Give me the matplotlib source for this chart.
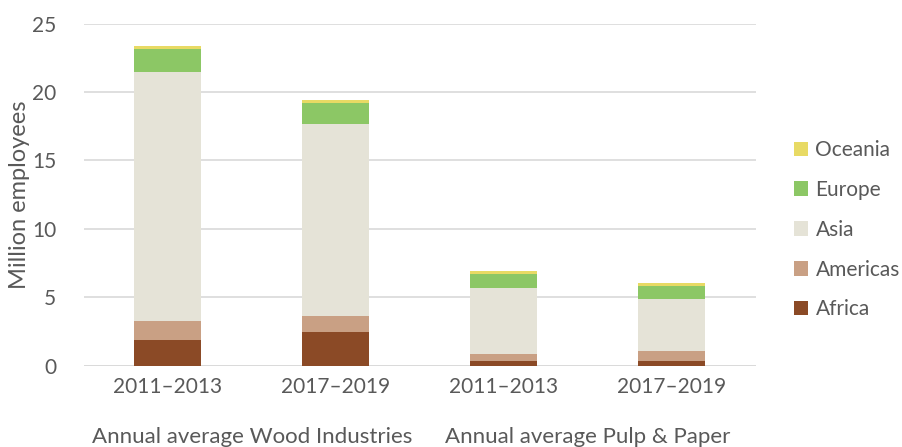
import numpy as np
import matplotlib.pyplot as plt
from matplotlib.patches import Patch

plt.rcParams['font.family'] = ['Lato', 'DejaVu Sans']

periods = ["2011–2013", "2017–2019", "2011–2013", "2017–2019"]
groups = ["Annual average Wood Industries", "Annual average Pulp & Paper"]
regions = ["Africa", "Americas", "Asia", "Europe", "Oceania"]

africa = [1.88, 2.44, 0.34, 0.37]
americas = [1.39, 1.19, 0.54, 0.70]
asia = [18.20, 14.07, 4.82, 3.78]
europe = [1.68, 1.50, 1.03, 1.00]
oceania = [0.22, 0.22, 0.17, 0.20]

colors = ["#8b4a26", "#c9a084", "#e5e3d7", "#8cc765", "#e8da64"]
text_col = "#595959"

fig = plt.figure(figsize=(9.02, 4.47), dpi=100)
ax = fig.add_axes([0.093, 0.182, 0.745, 0.765])

x = np.arange(len(periods))
bottom = np.zeros(len(periods))
for vals, col in zip([africa, americas, asia, europe, oceania], colors):
    ax.bar(x, vals, width=0.40, bottom=bottom, color=col, zorder=3)
    bottom += np.array(vals)

ax.set_xlim(-0.5, len(periods) - 0.5)
ax.set_ylim(0, 25)
ax.set_yticks(range(0, 26, 5))
ax.set_xticks(x)
ax.set_xticklabels(periods)
ax.yaxis.grid(True, color="#d9d9d9", linewidth=1.2, zorder=0)
ax.tick_params(axis="both", length=0, colors=text_col, labelsize=15)
ax.tick_params(axis="x", pad=8)
ax.tick_params(axis="y", pad=20)
for s in ax.spines.values():
    s.set_visible(False)
ax.axhline(0, color="#d9d9d9", linewidth=1.2, zorder=1)

ax.set_ylabel("Million employees", color=text_col, fontsize=17, labelpad=1)

for i, g in enumerate(groups):
    ax.text(2 * i + 0.5, -0.21, g, transform=ax.get_xaxis_transform(),
            ha="center", va="center", color=text_col, fontsize=16)

handles = [Patch(facecolor=c, label=r) for r, c in zip(regions, colors)][::-1]
fig.legend(handles=handles, loc="center left", bbox_to_anchor=(0.859, 0.486),
           frameon=False, fontsize=15, labelcolor=text_col,
           handlelength=0.7, handleheight=0.7, handletextpad=0.35,
           labelspacing=0.95)

fig.savefig("out.png", dpi=100)
